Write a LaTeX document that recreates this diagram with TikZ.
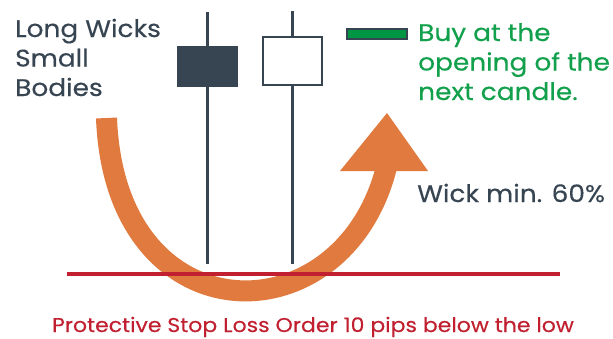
\documentclass[tikz,border=0pt]{standalone}
\usepackage{fontspec}
\setmainfont{Poppins}[FakeStretch=1.1, FakeBold=0.3]
\usepackage{tikz}
\usetikzlibrary{arrows.meta, positioning, calc}
\definecolor{candledark}{RGB}{55,69,82}
\definecolor{arroworange}{RGB}{224,122,63}
\definecolor{buygreen}{RGB}{18,160,76}
\definecolor{barfill}{RGB}{0,150,68}
\definecolor{stopred}{RGB}{192,32,48}

\begin{document}
\begin{tikzpicture}[
  x=1pt, y=-1pt,             % 1 unit = 1 px of the reference, y down
  wick/.style={candledark, line width=3pt},
  body/.style={draw=candledark, line width=2pt},
  label/.style={inner sep=0pt, anchor=base west, align=left},
  bigtext/.style={font=\fontsize{24}{29.5}\selectfont},
  smalltext/.style={font=\fontsize{20}{22}\selectfont}
]
  \useasboundingbox (0,0) rectangle (613,338);

  % Orange swoosh (shaft, then head)
  \draw[arroworange, line width=21pt] (106.5,118) .. controls (115,340) and (345,340) .. (387,165);
  \fill[arroworange] (340,171) -- (387,113) -- (428,171) -- cycle;

  % Candles
  \draw[wick] (207,12) -- (207,264);
  \draw[wick] (292,11) -- (292,264);
  \fill[candledark] (177,46) rectangle (238,87);
  \draw[body, fill=white] (263,37) rectangle (322,85);

  % Entry bar
  \draw[body, fill=barfill] (347,29) rectangle (407,39);

  % Stop loss line
  \draw[stopred, line width=4.5pt] (67,274) -- (560,274);

  % Labels (base anchor sits on the last line)
  \node[label, bigtext, text=candledark] (wicks) at (15,96) {Long Wicks\\Small\\Bodies};
  \node[label, bigtext, text=buygreen] (buy) at (418,100) {Buy at the\\opening of the\\next candle.};
  \node[label, bigtext, text=candledark] (wickmin) at (417,202) {Wick min. 60\%};
  \node[smalltext, text=stopred, inner sep=0pt, anchor=base] (stop) at (313,332) {Protective Stop Loss Order 10 pips below the low};
\end{tikzpicture}
\end{document}
